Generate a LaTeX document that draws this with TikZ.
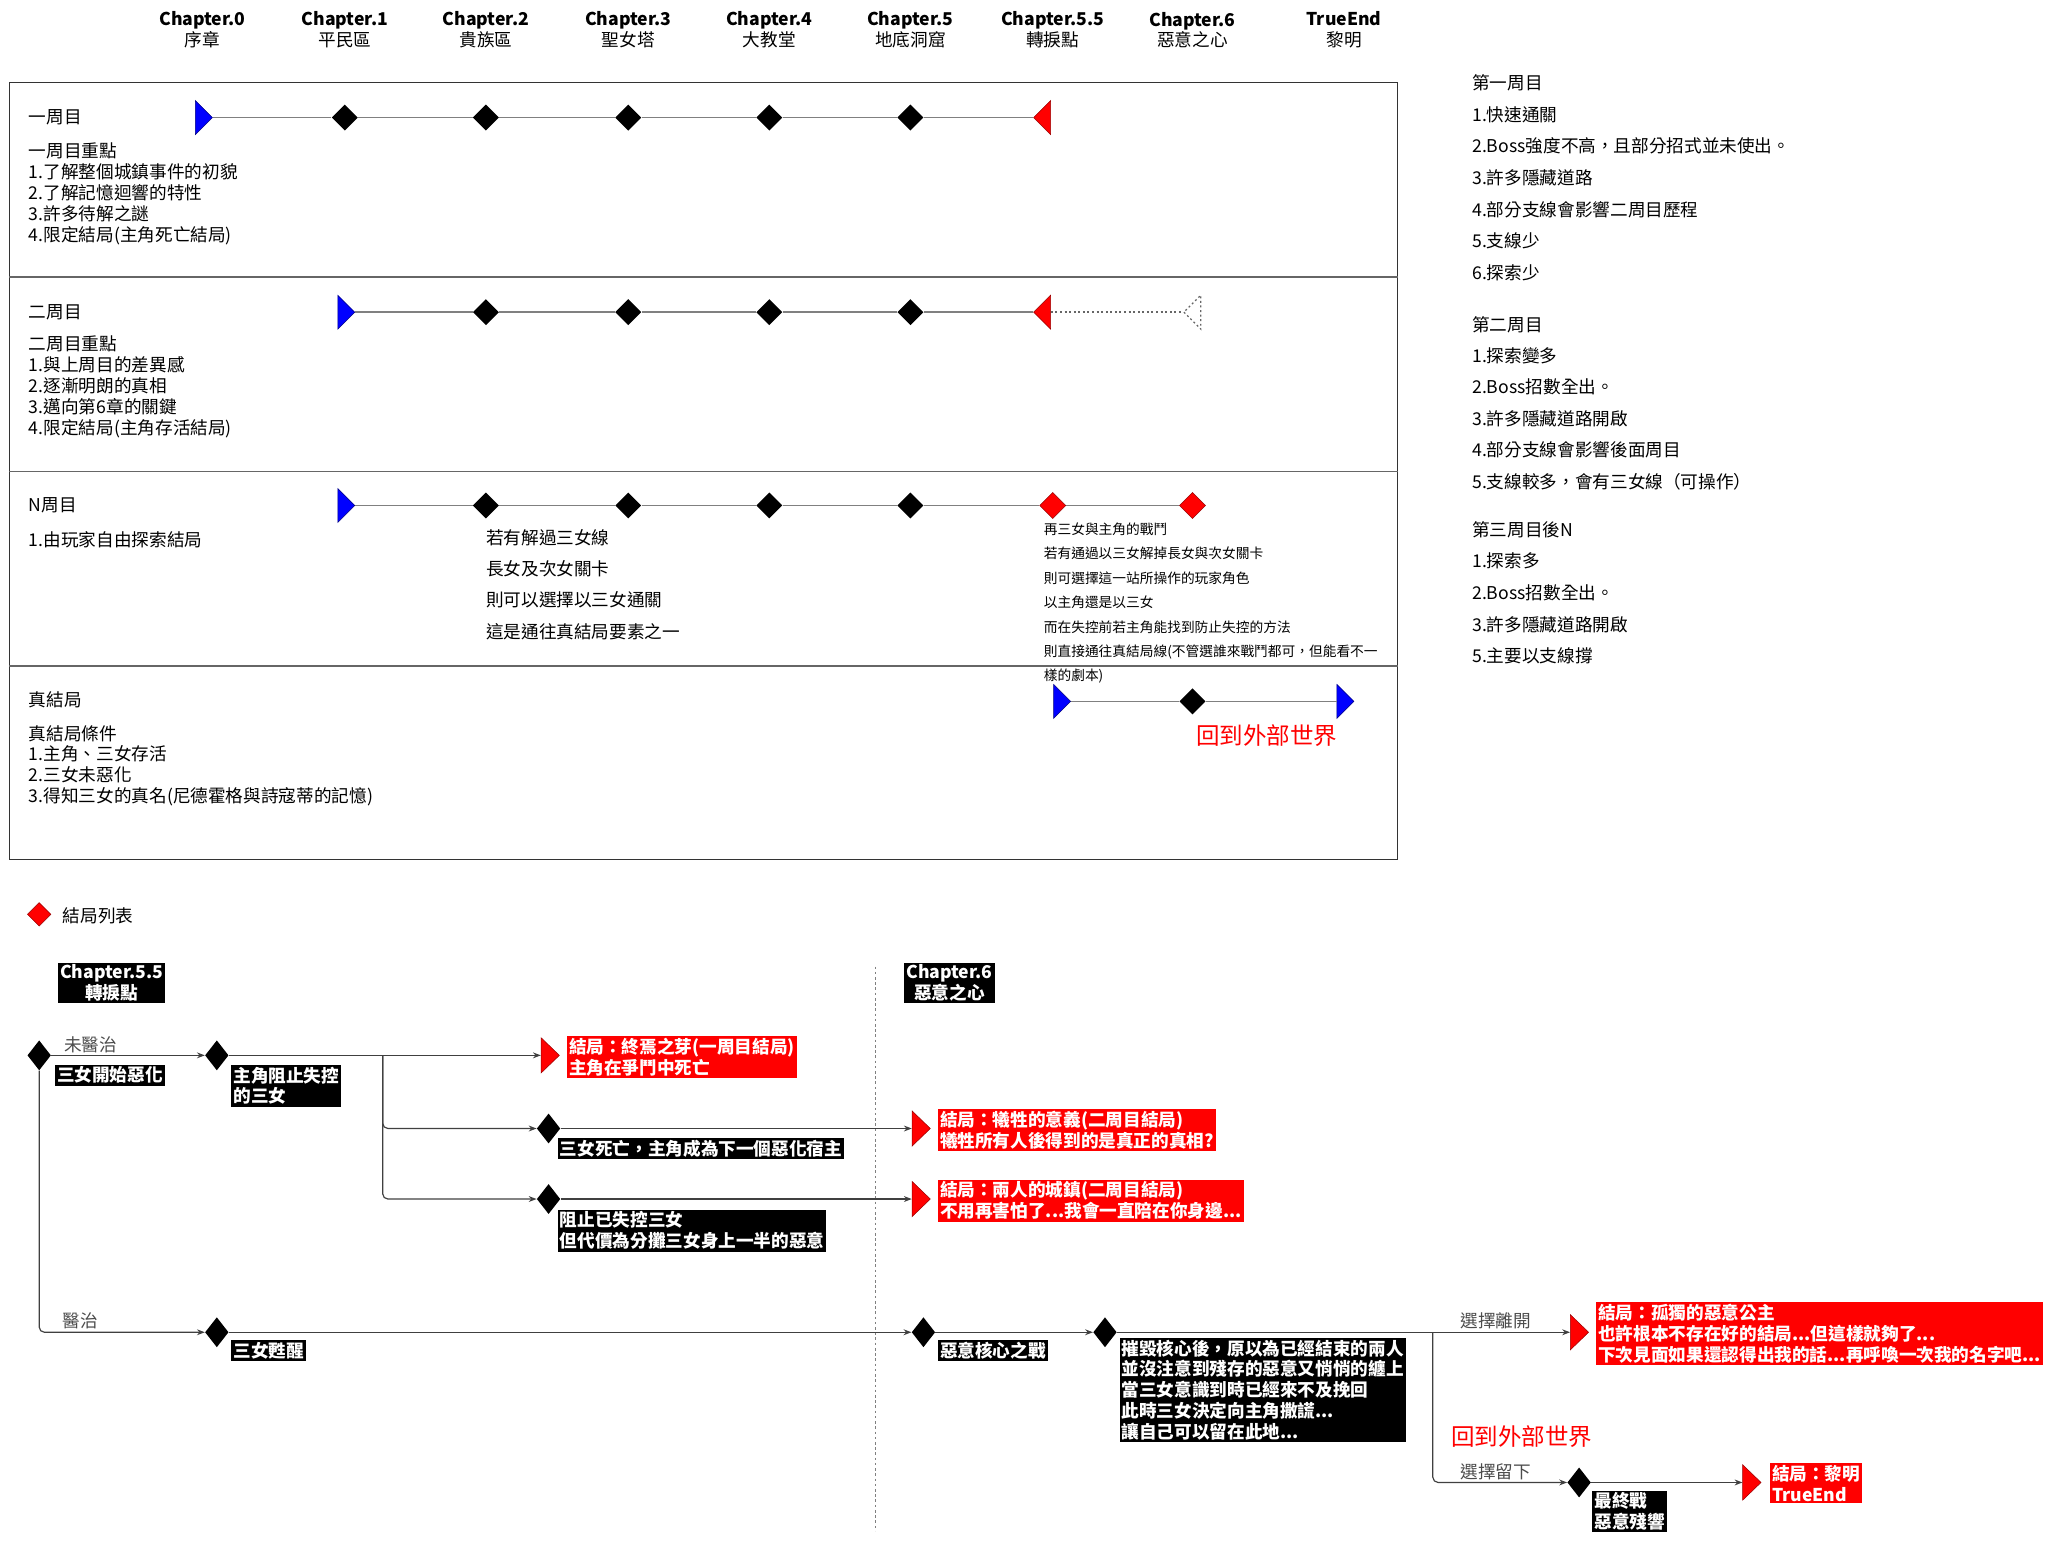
\documentclass[tikz,border=0pt]{standalone}
\usepackage{fontspec}
\setmainfont{Noto Sans CJK TC}
\usetikzlibrary{arrows.meta,shapes.geometric}
\definecolor{linegray}{RGB}{128,128,128}
\definecolor{endred}{RGB}{255,0,0}

\begin{document}
\begin{tikzpicture}[
    x=1pt, y=-1pt,
    every node/.style={font=\fontsize{13.5}{16}\selectfont, inner sep=0pt},
    dia/.style={diamond, fill=black, minimum width=20pt, minimum height=20pt},
    reddia/.style={dia, fill=endred, draw=red!60!black},
    tri/.style={isosceles triangle, isosceles triangle stretches, minimum width=26pt, minimum height=13pt},
    starttri/.style={tri, fill=blue, draw=blue!50!black},
    endtri/.style={tri, fill=endred, draw=red!60!black, shape border rotate=180},
    tline/.style={draw=linegray, line width=1.2pt},
    rowtext/.style={anchor=north west, align=left},
    fdia/.style={diamond, fill=black, minimum width=18pt, minimum height=23pt},
    ftri/.style={tri, fill=endred, draw=red!60!black, minimum width=27pt, minimum height=14pt},
    blackbox/.style={fill=black, text=white, anchor=north west, align=left, inner sep=1.5pt,
      font=\fontsize{13.5}{16}\selectfont\bfseries},
    redbox/.style={blackbox, fill=endred},
    flow/.style={draw=black!75, line width=0.9pt, -{Stealth[length=6pt,width=4.5pt]}},
    choice/.style={text=black!70},
    outworld/.style={text=endred, font=\fontsize{18}{20}\selectfont}
  ]
  \useasboundingbox (0,0) rectangle (1568,1181);

  % chapter headings
  \foreach \x/\c/\n [count=\i] in {155/Chapter.0/序章, 264/Chapter.1/平民區, 372/Chapter.2/貴族區,
      481/Chapter.3/聖女塔, 589/Chapter.4/大教堂, 697/Chapter.5/地底洞窟, 806/Chapter.5.5/轉捩點,
      913/Chapter.6/惡意之心, 1029/TrueEnd/黎明}
    \node[align=center] (ch\i) at (\x,23) {\textbf{\c}\\\n};

  % frame with four rows
  \draw[black!80, line width=0.8pt] (7,63) rectangle (1070,658);
  \foreach \y in {212,361,510}
    \draw[black!60, line width=1.2pt] (7,\y) -- (1070,\y);

  % row 1
  \node[anchor=west] (lab1) at (22,90) {一周目};
  \node[rowtext] (note1) at (22,109) {一周目重點\\1.了解整個城鎮事件的初貌\\2.了解記憶迴響的特性\\3.許多待解之謎\\4.限定結局(主角死亡結局)};
  \node[starttri] (r1s) at (155,90) {};
  \foreach \x [count=\i] in {264,372,481,589,697}
    \node[dia] (r1\i) at (\x,90) {};
  \node[endtri] (r1e) at (799,90) {};
  \draw[tline] (r1s) -- (r11) -- (r12) -- (r13) -- (r14) -- (r15) -- (r1e);

  % row 2
  \node[anchor=west] (lab2) at (22,239) {二周目};
  \node[rowtext] (note2) at (22,257) {二周目重點\\1.與上周目的差異感\\2.逐漸明朗的真相\\3.邁向第6章的關鍵\\4.限定結局(主角存活結局)};
  \node[starttri] (r2s) at (264,239) {};
  \foreach \x [count=\i] in {372,481,589,697}
    \node[dia] (r2\i) at (\x,239) {};
  \node[endtri] (r2e) at (799,239) {};
  \node[tri, draw=black!60, line width=1pt, dash pattern=on 1.5pt off 2pt, shape border rotate=180] (r2g) at (914,239) {};
  \draw[tline] (r2s) -- (r21) -- (r22) -- (r23) -- (r24) -- (r2e);
  \draw[black!60, line width=1.2pt, dash pattern=on 1.5pt off 2pt] (r2e) -- (r2g);

  % row 3
  \node[anchor=west] (lab3) at (22,387) {N周目};
  \node[anchor=west] (note3) at (22,413) {1.由玩家自由探索結局};
  \node[starttri] (r3s) at (264,387) {};
  \foreach \x [count=\i] in {372,481,589,697}
    \node[dia] (r3\i) at (\x,387) {};
  \node[reddia] (r35) at (806,387) {};
  \node[reddia] (r36) at (913,387) {};
  \draw[tline] (r3s) -- (r31) -- (r32) -- (r33) -- (r34) -- (r35) -- (r36);
  \node[rowtext, font=\fontsize{13.5}{24}\selectfont] (hint3) at (372,405)
    {若有解過三女線\\長女及次女關卡\\則可以選擇以三女通關\\這是通往真結局要素之一};
  \node[rowtext, font=\fontsize{10.5}{18.7}\selectfont] (fight3) at (799,400)
    {再三女與主角的戰鬥\\若有通過以三女解掉長女與次女關卡\\則可選擇這一站所操作的玩家角色\\以主角還是以三女\\而在失控前若主角能找到防止失控的方法\\則直接通往真結局線(不管選誰來戰鬥都可，但能看不一\\樣的劇本)};

  % row 4
  \node[anchor=west] (lab4) at (22,536) {真結局};
  \node[rowtext] (note4) at (22,555) {真結局條件\\1.主角、三女存活\\2.三女未惡化\\3.得知三女的真名(尼德霍格與詩寇蒂的記憶)};
  \node[starttri] (r4s) at (812,537) {};
  \node[dia] (r41) at (913,537) {};
  \node[starttri] (r4e) at (1029,537) {};
  \draw[tline] (r4s) -- (r41) -- (r4e);
  \node[outworld] (out1) at (970,563) {回到外部世界};

  % notes on the right
  \node[rowtext, font=\fontsize{13.5}{24.2}\selectfont] (side1) at (1127,57)
    {第一周目\\1.快速通關\\2.Boss強度不高，且部分招式並未使出。\\3.許多隱藏道路\\4.部分支線會影響二周目歷程\\5.支線少\\6.探索少};
  \node[rowtext, font=\fontsize{13.5}{24}\selectfont] (side2) at (1127,242)
    {第二周目\\1.探索變多\\2.Boss招數全出。\\3.許多隱藏道路開啟\\4.部分支線會影響後面周目\\5.支線較多，會有三女線（可操作）};
  \node[rowtext, font=\fontsize{13.5}{24.2}\selectfont] (side3) at (1127,399)
    {第三周目後N\\1.探索多\\2.Boss招數全出。\\3.許多隱藏道路開啟\\5.主要以支線撐};

  % legend
  \node[reddia, minimum width=18pt, minimum height=18pt] (legdia) at (30,700) {};
  \node[anchor=west] (legtext) at (48,701) {結局列表};

  % ending flowchart
  \node[blackbox, align=center, anchor=center] (fc55) at (85.5,752.5) {Chapter.5.5\\轉捩點};
  \node[blackbox, align=center, anchor=center] (fc6) at (727,752.5) {Chapter.6\\惡意之心};
  \draw[linegray, line width=0.8pt, dash pattern=on 2pt off 2pt] (670,740) -- (670,1172);

  \node[fdia] (d0) at (30,808) {};
  \node[fdia] (d1) at (166,808) {};
  \node[fdia] (d2) at (420,864) {};
  \node[fdia] (d3) at (420,918) {};
  \node[fdia] (d4) at (166,1020) {};
  \node[fdia] (d5) at (707,1020) {};
  \node[fdia] (d6) at (846,1020) {};
  \node[fdia] (d7) at (1209,1135) {};
  \node[ftri] (t1) at (420,808) {};
  \node[ftri] (t2) at (704,864) {};
  \node[ftri] (t3) at (704,918) {};
  \node[ftri] (t5) at (1208,1020) {};
  \node[ftri] (t6) at (1340,1135) {};
  \coordinate (split1) at (293,808);
  \coordinate (split2) at (1097,1020);

  \node[blackbox] (b0) at (42,815) {三女開始惡化};
  \node[blackbox] (b1) at (177,815) {主角阻止失控\\的三女};
  \node[blackbox] (b2) at (427,871) {三女死亡，主角成為下一個惡化宿主};
  \node[blackbox] (b3) at (427,926) {阻止已失控三女\\但代價為分攤三女身上一半的惡意};
  \node[blackbox] (b4) at (177,1026) {三女甦醒};
  \node[blackbox] (b5) at (718,1026) {惡意核心之戰};
  \node[blackbox] (b6) at (857,1024) {摧毀核心後，原以為已經結束的兩人\\並沒注意到殘存的惡意又悄悄的纏上\\當三女意識到時已經來不及挽回\\此時三女決定向主角撒謊...\\讓自己可以留在此地...};
  \node[blackbox] (b7) at (1219,1141) {最終戰\\惡意殘響};

  \node[redbox] (e1) at (434,793) {結局：終焉之芽(一周目結局)\\主角在爭鬥中死亡};
  \node[redbox] (e2) at (718,849) {結局：犧牲的意義(二周目結局)\\犧牲所有人後得到的是真正的真相?};
  \node[redbox] (e3) at (718,903) {結局：兩人的城鎮(二周目結局)\\不用再害怕了...我會一直陪在你身邊...};
  \node[redbox] (e5) at (1222,997) {結局：孤獨的惡意公主\\也許根本不存在好的結局...但這樣就夠了...\\下次見面如果還認得出我的話...再呼喚一次我的名字吧...};
  \node[redbox] (e6) at (1355,1120) {結局：黎明\\TrueEnd};

  \draw[flow] (d0) -- (d1);
  \draw[flow] (d1) -- (t1);
  \draw[flow, rounded corners=4pt] (split1) |- (d2);
  \draw[flow, rounded corners=4pt] (split1) |- (d3);
  \draw[flow] (d2) -- (t2);
  \draw[flow] (d3) -- (t3);
  \draw[flow, rounded corners=4pt] (d0) |- (d4);
  \draw[flow] (d4) -- (d5);
  \draw[flow] (d5) -- (d6);
  \draw[flow] (d6) -- (t5);
  \draw[flow, rounded corners=4pt] (split2) |- (d7);
  \draw[flow] (d7) -- (t6);

  \node[choice, anchor=south west] (c0) at (49,806) {未醫治};
  \node[choice, anchor=south west] (c1) at (48,1018) {醫治};
  \node[choice, anchor=south west] (c2) at (1118,1018) {選擇離開};
  \node[choice, anchor=south west] (c3) at (1118,1133) {選擇留下};
  \node[outworld] (out2) at (1165,1100) {回到外部世界};
\end{tikzpicture}
\end{document}
